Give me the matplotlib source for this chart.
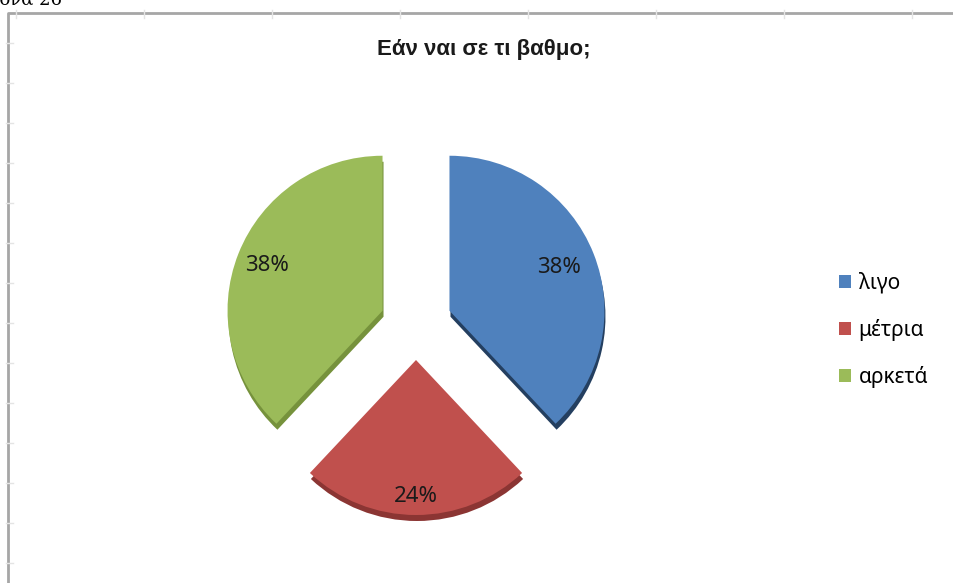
import matplotlib
matplotlib.use("Agg")
import matplotlib.pyplot as plt
from matplotlib.patches import Patch
import numpy as np

plt.rcParams['font.family'] = ['Noto Sans', 'DejaVu Sans']

# data
categories = ["λιγο", "μέτρια", "αρκετά"]
shares = [38, 24, 38]
title = "Εάν ναι σε τι βαθμο;"

colors = ["#4f81bd", "#c0504d", "#9bbb59"]
shadows = ["#243f60", "#8b3533", "#76923c"]

W, H = 954, 583
fig = plt.figure(figsize=(W / 100, H / 100), dpi=100)
ax = fig.add_axes([0, 0, 1, 1])
ax.set_xlim(0, W)
ax.set_ylim(0, H)
ax.axis("off")

# frame of the chart area (page border with faint ticks)
ax.plot([8, 8, W + 5], [-5, H - 13, H - 13], color="#a6a6a6", lw=2, zorder=1)
for xt in range(16, W, 128):
    ax.plot([xt, xt], [H - 10, H - 18], color="#e4e4e4", lw=1, zorder=1)
for yt in range(H - 43, 0, -40):
    ax.plot([6, 13], [yt, yt], color="#e4e4e4", lw=1, zorder=1)
fig.text(0.065, 1.0, "Εικόνα 26", family="DejaVu Serif", fontsize=13,
         ha="right", va="center")

cx, cy, r = 416, H - 324, 155
expl = [36, 36, 36]

# depth of the slices: the same pie drawn a little lower in darker colours
ax.pie(shares, colors=shadows, startangle=90, counterclock=False,
       explode=expl, radius=r, center=(cx + 1, cy - 6),
       wedgeprops=dict(linewidth=0))
wedges, _, autotexts = ax.pie(shares, colors=colors, startangle=90,
                              counterclock=False, explode=expl, radius=r,
                              center=(cx, cy), autopct="%1.0f%%",
                              pctdistance=0.75,
                              wedgeprops=dict(linewidth=0))
ax.set_xlim(0, W)
ax.set_ylim(0, H)
ax.set_aspect("equal")

label_dist = [0.76, 0.88, 0.8]
for w, t, d in zip(wedges, autotexts, label_dist):
    ang = np.deg2rad((w.theta1 + w.theta2) / 2)
    x0, y0 = w.center
    t.set_position((x0 + d * r * np.cos(ang), y0 + d * r * np.sin(ang)))
    t.set_fontsize(16)
    t.set_color("#1a1a1a")

ax.text(484, H - 49, title, ha="center", va="center", fontsize=16,
        fontweight="bold", family="Liberation Sans", color="#1a1a1a")

handles = [Patch(facecolor=c, edgecolor="none") for c in colors]
fig.legend(handles, categories, loc="center left",
           bbox_to_anchor=(820 / W, 1 - 330 / H), frameon=False,
           fontsize=15, handlelength=0.6, handleheight=0.6,
           handletextpad=0.35, labelspacing=1.2)

fig.savefig("out.png", dpi=100)
